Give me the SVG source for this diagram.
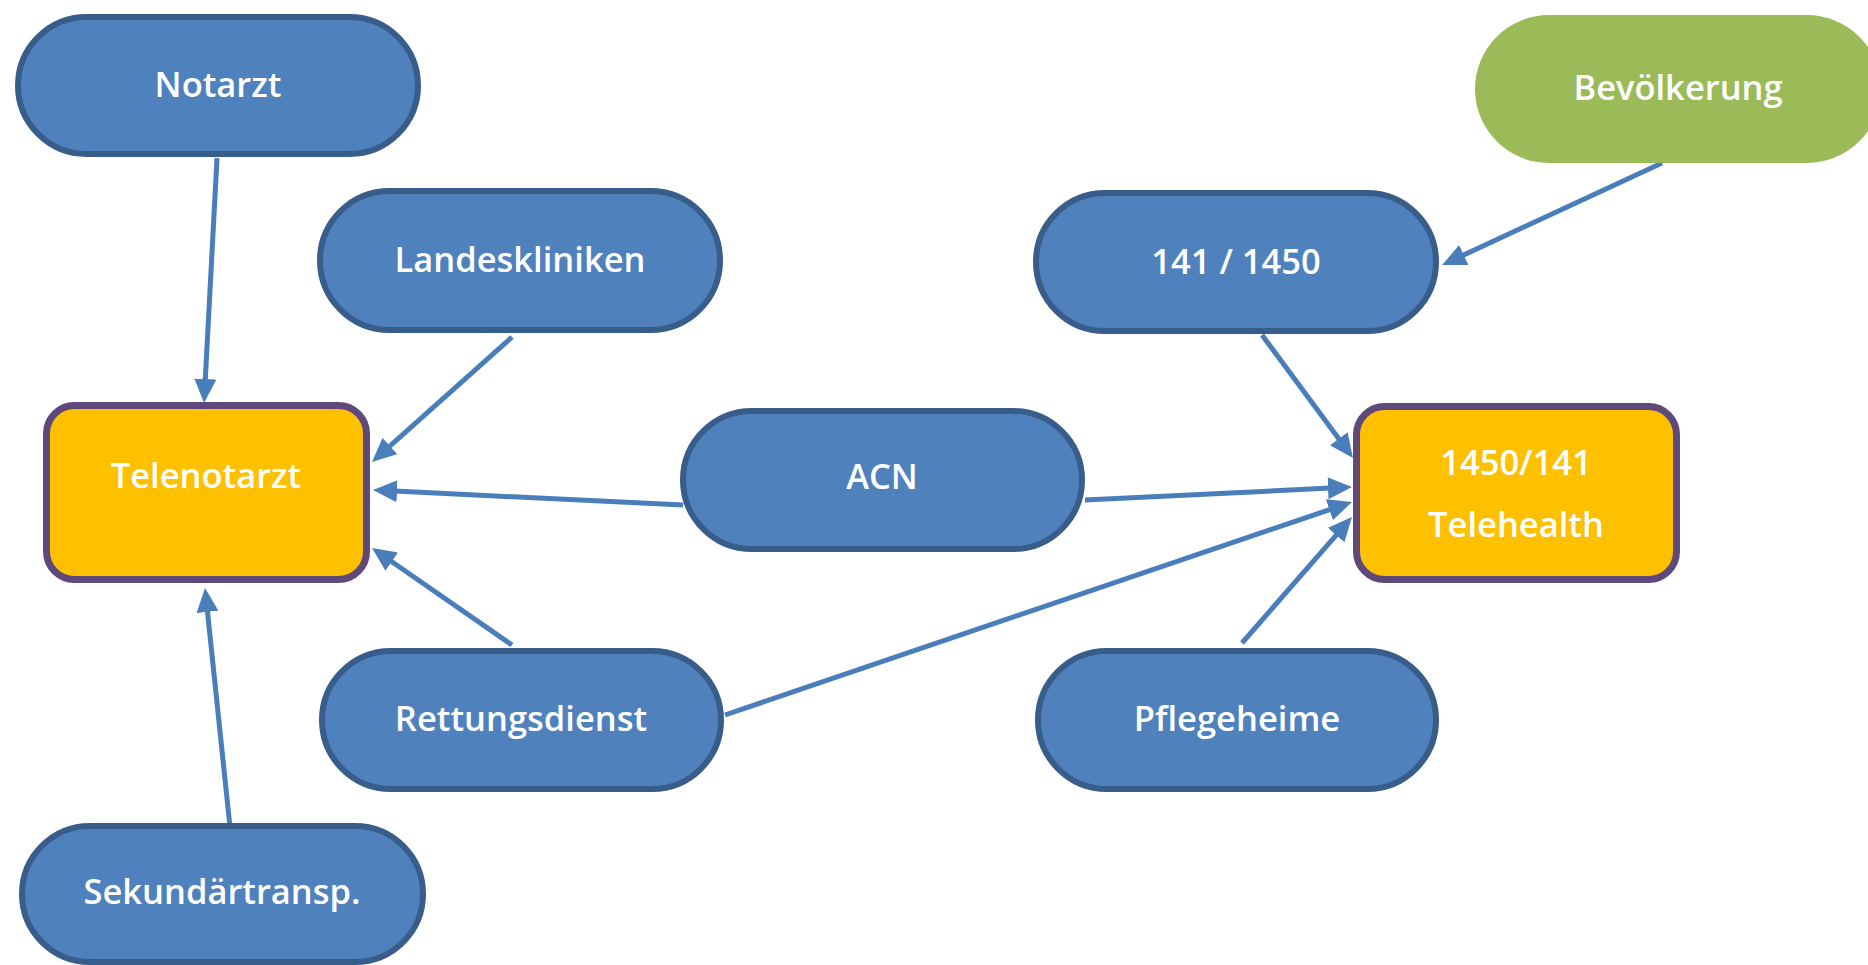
<svg xmlns="http://www.w3.org/2000/svg" width="1868" height="965" viewBox="0 0 1868 965">
<style>
.pill{fill:#4F81BD;stroke:#385D8A;stroke-width:6}
.green{fill:#9BBB59}
.hub{fill:#FFC000;stroke:#5F497A;stroke-width:7}
.lbl{font-family:"Open Sans","Noto Sans",sans-serif;font-size:34.5px;font-weight:600;fill:#FFFFFF;text-anchor:middle}
.edge{stroke:#4A7EBB;stroke-width:5;fill:none}
</style>
<defs>
<marker id="ah" markerUnits="userSpaceOnUse" markerWidth="24" markerHeight="22" refX="2" refY="11" orient="auto">
<path d="M0,0 L24,11 L0,22 z" fill="#4A7EBB"/>
</marker>
</defs>
<rect width="1868" height="965" fill="#FFFFFF"/>
<g id="connectors">
<line class="edge" x1="217" y1="158" x2="205.2" y2="381" marker-end="url(#ah)"/>
<line class="edge" x1="512" y1="337" x2="388.4" y2="447.4" marker-end="url(#ah)"/>
<line class="edge" x1="683" y1="505" x2="395" y2="491.1" marker-end="url(#ah)"/>
<line class="edge" x1="512" y1="645" x2="390.1" y2="560.5" marker-end="url(#ah)"/>
<line class="edge" x1="230" y1="827" x2="207.3" y2="609.9" marker-end="url(#ah)"/>
<line class="edge" x1="1662" y1="163" x2="1462" y2="255.8" marker-end="url(#ah)"/>
<line class="edge" x1="1262" y1="335" x2="1339.9" y2="440.3" marker-end="url(#ah)"/>
<line class="edge" x1="1085" y1="500" x2="1330" y2="488.1" marker-end="url(#ah)"/>
<line class="edge" x1="725" y1="715" x2="1331.2" y2="509.1" marker-end="url(#ah)"/>
<line class="edge" x1="1242" y1="643" x2="1337.5" y2="533.6" marker-end="url(#ah)"/>
</g>
<g id="notarzt">
<rect class="pill" x="18" y="17" width="400" height="137" rx="68.5"/>
<text class="lbl" x="218" y="97">Notarzt</text>
</g>
<g id="landeskliniken">
<rect class="pill" x="320" y="191" width="400" height="139" rx="69.5"/>
<text class="lbl" x="520" y="272">Landeskliniken</text>
</g>
<g id="n141">
<rect class="pill" x="1036" y="193" width="400" height="138" rx="69"/>
<text class="lbl" x="1236" y="274">141 / 1450</text>
</g>
<g id="bevoelkerung">
<rect class="green" x="1475" y="15" width="406" height="148" rx="74"/>
<text class="lbl" x="1678" y="100">Bevölkerung</text>
</g>
<g id="telenotarzt">
<rect class="hub" x="46.5" y="405.5" width="320" height="174" rx="28"/>
<text class="lbl" x="206" y="488">Telenotarzt</text>
</g>
<g id="acn">
<rect class="pill" x="683" y="411" width="399" height="138" rx="69"/>
<text class="lbl" x="882" y="489">ACN</text>
</g>
<g id="telehealth">
<rect class="hub" x="1356.5" y="406.5" width="320" height="173" rx="28"/>
<text class="lbl" x="1516" y="475">1450/141</text>
<text class="lbl" x="1516" y="537">Telehealth</text>
</g>
<g id="rettungsdienst">
<rect class="pill" x="322" y="651" width="399" height="138" rx="69"/>
<text class="lbl" x="521" y="731">Rettungsdienst</text>
</g>
<g id="pflegeheime">
<rect class="pill" x="1038" y="651" width="398" height="138" rx="69"/>
<text class="lbl" x="1237" y="731">Pflegeheime</text>
</g>
<g id="sekundaertransp">
<rect class="pill" x="22" y="826" width="401" height="136" rx="68"/>
<text class="lbl" x="222" y="904">Sekundärtransp.</text>
</g>
</svg>
